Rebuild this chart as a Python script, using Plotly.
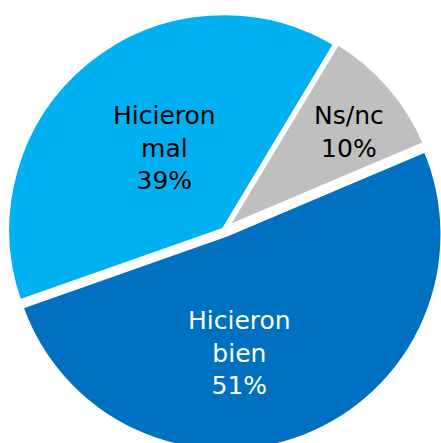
import plotly.graph_objects as go

labels = ["Ns/nc", "Hicieron bien", "Hicieron mal"]
label_lines = ["Ns/nc", "Hicieron<br>bien", "Hicieron<br>mal"]
values = [10, 51, 39]
colors = ["#BFBFBF", "#0070C0", "#00B0F0"]
text_colors = ["#000000", "#FFFFFF", "#000000"]
pulls = [0.01, 0.022, 0.0]

# label anchor positions (paper coordinates)
label_pos = [(0.7815, 0.7207), (0.536, 0.223), (0.3671, 0.6847)]

total = sum(values)

fig = go.Figure(go.Pie(
    labels=labels,
    values=values,
    textinfo="none",
    sort=False,
    direction="clockwise",
    rotation=31,
    pull=pulls,
    marker=dict(colors=colors, line=dict(color="#FFFFFF", width=5)),
    showlegend=False,
    hoverinfo="label+percent",
))

for lab, v, col, (px, py) in zip(label_lines, values, text_colors, label_pos):
    fig.add_annotation(
        x=px, y=py, xref="paper", yref="paper",
        text=f"{lab}<br>{round(100 * v / total)}%",
        showarrow=False,
        xanchor="center", yanchor="middle",
        font=dict(family="DejaVu Sans", size=25, color=col),
    )

fig.update_layout(
    width=446, height=452,
    margin=dict(l=2, r=0, t=8, b=0),
    paper_bgcolor="#FFFFFF",
    plot_bgcolor="#FFFFFF",
)

fig.write_html(
    "out.html",
    config={"displayModeBar": False},
    post_script="document.body.style.margin='0';document.body.style.overflow='hidden';document.documentElement.style.overflow='hidden';",
)
